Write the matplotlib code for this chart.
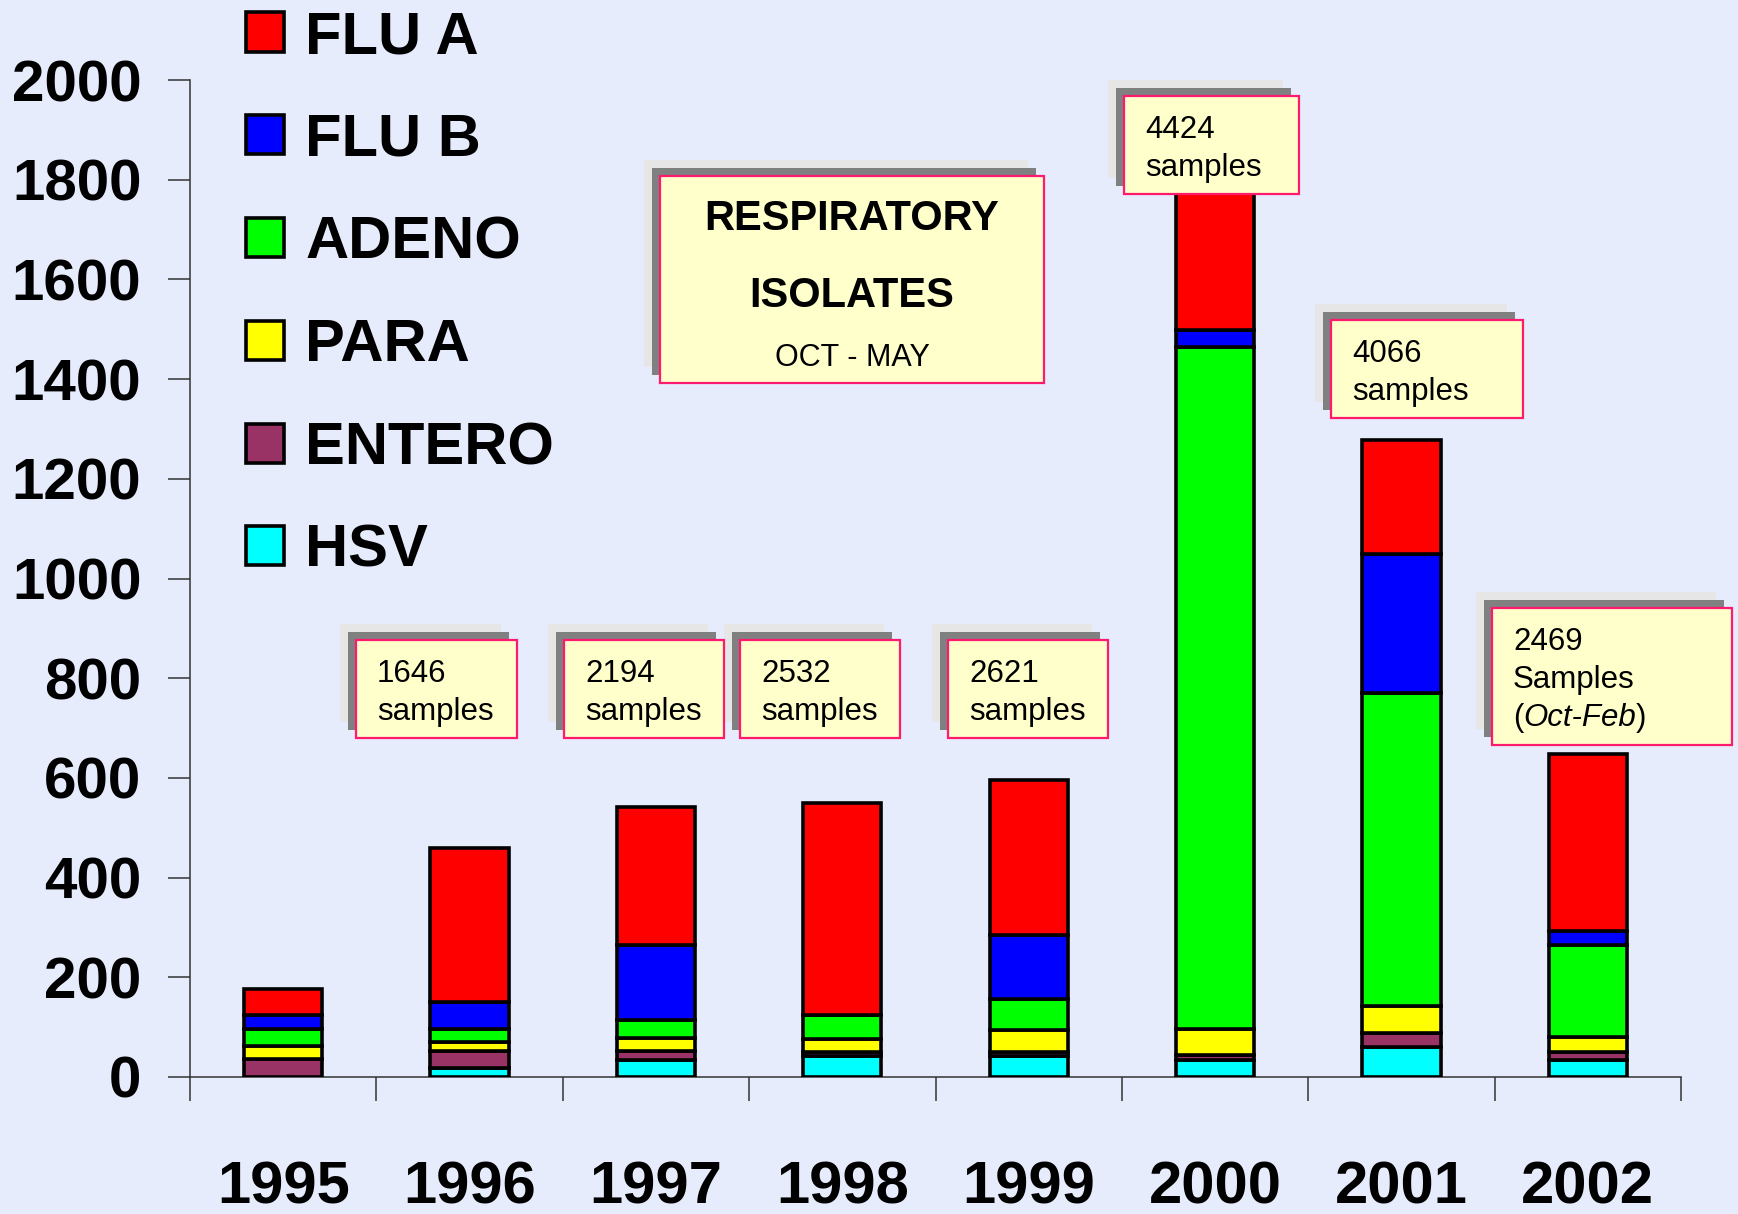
import numpy as np
import matplotlib.pyplot as plt
from matplotlib.patches import Rectangle, Patch

W, H = 1738, 1214
DPI = 100
BG = '#E6ECFB'

years = ['1995', '1996', '1997', '1998', '1999', '2000', '2001', '2002']
series = ['FLU A', 'FLU B', 'ADENO', 'PARA', 'ENTERO', 'HSV']
colors = ['#FF0000', '#0000FF', '#00FF00', '#FFFF00', '#993366', '#00FFFF']

# isolates per season
flu_a = [52, 308, 276, 426, 310, 350, 229, 355]
flu_b = [28, 55, 151, 0, 129, 34, 278, 28]
adeno = [35, 26, 35, 48, 62, 1368, 629, 185]
para = [26, 17, 27, 26, 43, 53, 54, 30]
entero = [36, 35, 17, 8, 8, 9, 27, 15]
hsv = [0, 18, 35, 42, 43, 35, 61, 35]

# sample count notes: text and box (left, top, right, bottom) in pixels
notes = ['1646\nsamples', '2194\nsamples', '2532\nsamples', '2621\nsamples',
         '4424\nsamples', '4066\nsamples', '2469\nSamples']
note_boxes = [(356, 640, 517, 738), (564, 640, 724, 738), (740, 640, 900, 738),
              (948, 640, 1108, 738), (1124, 96, 1299, 194), (1331, 320, 1523, 418),
              (1492, 608, 1732, 745)]

plt.rcParams['font.family'] = ['Liberation Sans', 'DejaVu Sans']

fig = plt.figure(figsize=(W / DPI, H / DPI), dpi=DPI, facecolor=BG)
ax = fig.add_axes([190 / W, 1 - 1077 / H, (1681 - 190) / W, (1077 - 80) / H])
ax.set_facecolor(BG)

x = np.arange(len(years))
stack = [hsv, entero, para, adeno, flu_b, flu_a]
stack_colors = colors[::-1]
bottom = np.zeros(len(years))
for vals, c in zip(stack, stack_colors):
    ax.bar(x, vals, 0.42, bottom=bottom, color=c, edgecolor='black',
           linewidth=2.6, zorder=3)
    bottom += np.array(vals)

ax.set_xlim(-0.5, len(years) - 0.5)
ax.set_ylim(0, 2000)
ax.set_yticks(np.arange(0, 2001, 200))
ax.set_yticklabels([str(v) for v in range(0, 2001, 200)],
                   fontweight='bold', fontsize=42)
ax.tick_params(axis='y', direction='out', length=16, width=1.1, color='#333333', pad=19)

ax.set_xticks(x)
ax.set_xticklabels(years, fontweight='bold', fontsize=43)
ax.set_xticks(np.arange(-0.5, len(years)), minor=True)
ax.tick_params(axis='x', which='major', length=0, pad=60)
ax.tick_params(axis='x', which='minor', direction='out', length=17, width=1.1, color='#333333')

for s in ['top', 'right']:
    ax.spines[s].set_visible(False)
for s in ['left', 'bottom']:
    ax.spines[s].set_color('#333333')
    ax.spines[s].set_linewidth(1.1)

handles = [Patch(facecolor=c, edgecolor='black', linewidth=2.6) for c in colors]
ax.legend(handles, series, loc='upper left', bbox_to_anchor=(246 / W, 1 - 10 / H),
          bbox_transform=fig.transFigure, frameon=False, borderpad=0,
          borderaxespad=0, handlelength=0.63, handleheight=0.63,
          handletextpad=0.36, labelspacing=0.80,
          prop={'weight': 'bold', 'size': 43})


def fx(px):
    return px / W


def fy(py):
    return 1 - py / H


def note_box(l, t, r, b):
    for off, c in [(16, '#E6E6E6'), (8, '#808080')]:
        fig.add_artist(Rectangle((fx(l - off), fy(b - off)), fx(r - l), (b - t) / H,
                                 transform=fig.transFigure, facecolor=c,
                                 edgecolor='none', zorder=5))
    fig.add_artist(Rectangle((fx(l), fy(b)), fx(r - l), (b - t) / H,
                             transform=fig.transFigure, facecolor='#FFFFCC',
                             edgecolor='#FF1A6E', linewidth=1.6, zorder=6))


# title box
note_box(660, 176, 1044, 383)
fig.text(fx(852), fy(230), 'RESPIRATORY', ha='center', va='baseline',
         fontsize=30, fontweight='bold', zorder=7)
fig.text(fx(852), fy(307), 'ISOLATES', ha='center', va='baseline',
         fontsize=30, fontweight='bold', zorder=7)
fig.text(fx(852), fy(366), 'OCT - MAY', ha='center', va='baseline',
         fontsize=22, zorder=7)

for txt, (l, t, r, b) in zip(notes, note_boxes):
    note_box(l, t, r, b)
    for i, line in enumerate(txt.split('\n')):
        fig.text(fx(l + 21), fy(t + 42 + 38 * i), line, ha='left', va='baseline',
                 fontsize=22.5, zorder=7)

# third line of the 2002 note, italic months in plain brackets
l, t, r, b = note_boxes[-1]
renderer = fig.canvas.get_renderer()
xpos = l + 21
for part, style in [('(', 'normal'), ('Oct-Feb', 'italic'), (')', 'normal')]:
    tx = fig.text(fx(xpos), fy(t + 42 + 38 * 2), part, ha='left', va='baseline',
                  fontsize=22.5, style=style, zorder=7)
    xpos += tx.get_window_extent(renderer).width

fig.savefig('out.png', dpi=DPI, facecolor=BG)
